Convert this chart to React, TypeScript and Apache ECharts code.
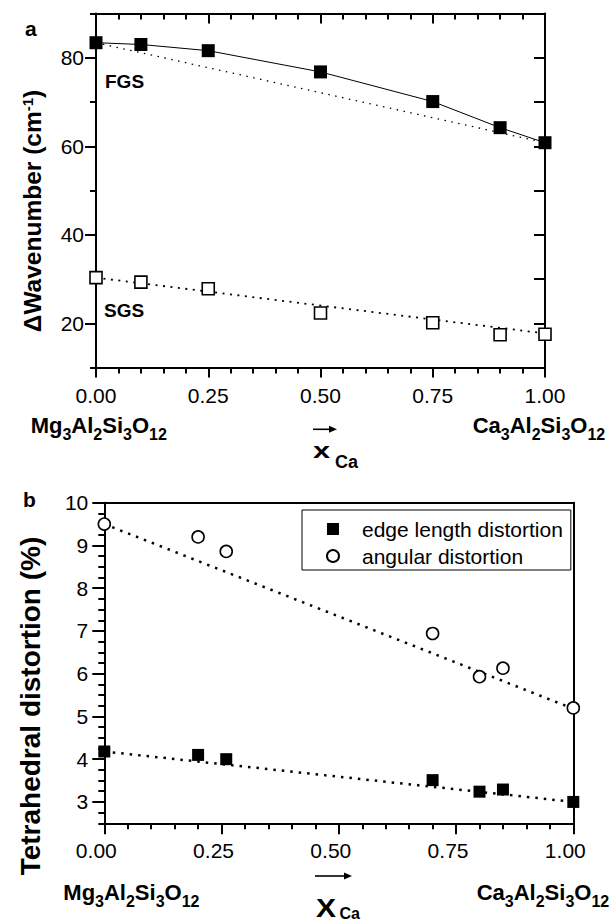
import React, { useEffect, useRef } from "react";
import * as echarts from "echarts";

// ---------- Panel a data ----------
const xA = [0, 0.1, 0.25, 0.5, 0.75, 0.9, 1.0];
const fgs = [83.4, 83.0, 81.6, 76.8, 70.1, 64.2, 60.8];
const sgs = [30.3, 29.3, 27.8, 22.3, 20.1, 17.4, 17.5];
const fitXA = [0, 1];
const fgsFit = [83.4, 60.8];
const sgsFit = [30.3, 17.7];
const yTicksA = [20, 40, 60, 80];

// ---------- Panel b data ----------
const xB = [0, 0.2, 0.26, 0.7, 0.8, 0.85, 1.0];
const edge = [4.18, 4.1, 4.0, 3.51, 3.24, 3.29, 3.0];
const angular = [9.5, 9.2, 8.86, 6.94, 5.93, 6.13, 5.2];
const fitXB = [0, 1];
const edgeFit = [4.18, 3.0];
const angularFit = [9.5, 5.18];
const yTicksB = [3, 4, 5, 6, 7, 8, 9, 10];
const legendNames = ["edge length distortion", "angular distortion"];

// end-member formulas: [text, isSubscript]
const mgFormula: [string, boolean][] = [["Mg", false], ["3", true], ["Al", false], ["2", true], ["Si", false], ["3", true], ["O", false], ["12", true]];
const caFormula: [string, boolean][] = [["Ca", false], ["3", true], ["Al", false], ["2", true], ["Si", false], ["3", true], ["O", false], ["12", true]];

const FONT = '"Liberation Sans", Arial, Helvetica, sans-serif';
const BLACK = "#000";

const pairs = (xs: number[], ys: number[]) => xs.map((x, i) => [x, ys[i]]);

const axisLine = { show: true, onZero: false, lineStyle: { color: BLACK, width: 2 } };

let measureCtx: CanvasRenderingContext2D | null = null;
function textWidth(text: string, size: number, bold = true) {
  if (!measureCtx) measureCtx = document.createElement("canvas").getContext("2d");
  if (!measureCtx) return text.length * size * 0.6;
  measureCtx.font = `${bold ? "bold " : ""}${size}px ${FONT}`;
  return measureCtx.measureText(text).width;
}

function textEl(text: string, x: number, y: number, fontSize: number, bold = true, extra: any = {}) {
  return {
    type: "text",
    x,
    y,
    ...extra,
    style: {
      text,
      fontSize,
      fontWeight: bold ? "bold" : "normal",
      fontFamily: FONT,
      fill: BLACK,
      align: "left",
      verticalAlign: "middle",
    },
  };
}

// lay out a chemical formula with subscripts, starting at x with main baseline yb
function formulaEls(parts: [string, boolean][], x: number, yb: number) {
  const MAIN = 22;
  const SUB = 16;
  const els: any[] = [];
  let cx = x;
  for (const [t, sub] of parts) {
    const size = sub ? SUB : MAIN;
    const base = sub ? yb + 7.3 : yb;
    els.push(textEl(t, cx, base - 0.3465 * size, size));
    cx += textWidth(t, size);
  }
  return els;
}

function arrow(x1: number, x2: number, y: number) {
  return [
    { type: "line", shape: { x1, y1: y, x2: x2 - 6, y2: y }, style: { stroke: BLACK, lineWidth: 1.6 } },
    { type: "polygon", shape: { points: [[x2, y], [x2 - 8, y - 3.5], [x2 - 8, y + 3.5]] }, style: { fill: BLACK } },
  ];
}

export default function App() {
  const ref = useRef<HTMLDivElement>(null);

  useEffect(() => {
    if (!ref.current) return;
    const chart = echarts.init(ref.current, null, { renderer: "svg" });

    const labelStyle = { color: BLACK, fontSize: 21, fontFamily: FONT };

    const option: any = {
      animation: false,
      backgroundColor: "#fff",
      textStyle: { fontFamily: FONT },
      grid: [
        { left: 96, top: 13.5, width: 449, height: 354 },
        { left: 104.3, top: 502.7, width: 469, height: 320.6 },
      ],
      xAxis: [
        {
          gridIndex: 0, type: "value", position: "bottom", min: 0, max: 1, interval: 0.25,
          axisLine,
          axisTick: { show: true, length: 10, lineStyle: { color: BLACK, width: 2 } },
          minorTick: { show: true, splitNumber: 5, length: 6, lineStyle: { color: BLACK, width: 2 } },
          axisLabel: { ...labelStyle, margin: 17, formatter: (v: number) => v.toFixed(2) },
          splitLine: { show: false },
        },
        {
          gridIndex: 0, type: "value", position: "top", min: 0, max: 1, interval: 0.25,
          axisLine,
          axisTick: { show: true, inside: true, length: 10, lineStyle: { color: BLACK, width: 2 } },
          minorTick: { show: true, splitNumber: 5, length: 6, lineStyle: { color: BLACK, width: 2 } },
          axisLabel: { show: false },
          splitLine: { show: false },
        },
        {
          gridIndex: 1, type: "value", position: "bottom", min: 0, max: 1, interval: 0.25,
          axisLine,
          axisTick: { show: true, length: 11, lineStyle: { color: BLACK, width: 2 } },
          minorTick: { show: true, splitNumber: 5, length: 6, lineStyle: { color: BLACK, width: 2 } },
          axisLabel: { ...labelStyle, margin: 17, padding: [0, 16, 0, 0], formatter: (v: number) => v.toFixed(2) },
          splitLine: { show: false },
        },
        {
          gridIndex: 1, type: "value", position: "top", min: 0, max: 1,
          axisLine,
          axisTick: { show: false },
          axisLabel: { show: false },
          splitLine: { show: false },
        },
      ],
      yAxis: [
        {
          gridIndex: 0, type: "value", position: "left", min: 10, max: 90, interval: 10,
          axisLine,
          axisTick: { show: true, length: 6, lineStyle: { color: BLACK, width: 2 } },
          axisLabel: {
            ...labelStyle, margin: 12,
            formatter: (v: number) => (yTicksA.indexOf(v) >= 0 ? String(v) : ""),
          },
          splitLine: { show: false },
        },
        {
          gridIndex: 0, type: "value", position: "left", min: 10, max: 90, interval: 10,
          axisLine: { show: false },
          axisTick: { show: true, length: 11, customValues: yTicksA, lineStyle: { color: BLACK, width: 2 } },
          axisLabel: { show: false },
          splitLine: { show: false },
        },
        {
          gridIndex: 0, type: "value", position: "right", min: 10, max: 90, interval: 10,
          axisLine,
          axisTick: { show: true, inside: true, length: 11, lineStyle: { color: BLACK, width: 2 } },
          axisLabel: { show: false },
          splitLine: { show: false },
        },
        {
          gridIndex: 1, type: "value", position: "left", min: 2.5, max: 10, interval: 0.25,
          axisLine,
          axisTick: { show: true, length: 6, lineStyle: { color: BLACK, width: 2 } },
          axisLabel: {
            ...labelStyle, margin: 16,
            formatter: (v: number) => (yTicksB.indexOf(v) >= 0 ? String(v) : ""),
          },
          splitLine: { show: false },
        },
        {
          gridIndex: 1, type: "value", position: "left", min: 2.5, max: 10, interval: 0.25,
          axisLine: { show: false },
          axisTick: { show: true, length: 12, customValues: yTicksB, lineStyle: { color: BLACK, width: 2 } },
          axisLabel: { show: false },
          splitLine: { show: false },
        },
        {
          gridIndex: 1, type: "value", position: "right", min: 2.5, max: 10,
          axisLine,
          axisTick: { show: false },
          axisLabel: { show: false },
          splitLine: { show: false },
        },
      ],
      legend: {
        orient: "vertical",
        left: 302,
        top: 510,
        data: [
          { name: legendNames[0], icon: "rect" },
          { name: legendNames[1], icon: "circle" },
        ],
        itemWidth: 12,
        itemHeight: 12,
        itemGap: 5,
        padding: [8, 8, 3, 24],
        borderColor: BLACK,
        borderWidth: 1,
        borderRadius: 0,
        backgroundColor: "#fff",
        selectedMode: false,
        textStyle: { fontSize: 21, color: BLACK, fontFamily: FONT, lineHeight: 22, padding: [0, 0, 0, 18] },
      },
      series: [
        // Panel a
        {
          name: "FGS fit", type: "line", xAxisIndex: 0, yAxisIndex: 0, z: 1, silent: true,
          data: pairs(fitXA, fgsFit), showSymbol: false, symbol: "none",
          lineStyle: { color: BLACK, width: 1.3, type: [1.5, 5.5] },
        },
        {
          name: "SGS fit", type: "line", xAxisIndex: 0, yAxisIndex: 0, z: 1, silent: true,
          data: pairs(fitXA, sgsFit), showSymbol: false, symbol: "none",
          lineStyle: { color: BLACK, width: 1.8, type: [2, 5.5] },
        },
        {
          name: "FGS", type: "line", xAxisIndex: 0, yAxisIndex: 0, z: 3, clip: false,
          data: pairs(xA, fgs), symbol: "rect", symbolSize: 13, showSymbol: true,
          itemStyle: { color: BLACK, opacity: 1 }, lineStyle: { color: BLACK, width: 1 },
        },
        {
          name: "SGS", type: "scatter", xAxisIndex: 0, yAxisIndex: 0, z: 3, clip: false,
          data: pairs(xA, sgs), symbol: "rect", symbolSize: 12,
          itemStyle: { color: "#fff", borderColor: BLACK, borderWidth: 1.6, opacity: 1 },
        },
        // Panel b
        {
          name: "edge fit", type: "line", xAxisIndex: 2, yAxisIndex: 3, z: 1, silent: true,
          data: pairs(fitXB, edgeFit), showSymbol: false, symbol: "none",
          lineStyle: { color: BLACK, width: 2.5, type: [2.5, 6] },
        },
        {
          name: "angular fit", type: "line", xAxisIndex: 2, yAxisIndex: 3, z: 1, silent: true,
          data: pairs(fitXB, angularFit), showSymbol: false, symbol: "none",
          lineStyle: { color: BLACK, width: 2.5, type: [2.5, 6] },
        },
        {
          name: legendNames[0], type: "scatter", xAxisIndex: 2, yAxisIndex: 3, z: 3, clip: false,
          data: pairs(xB, edge), symbol: "rect", symbolSize: 12,
          itemStyle: { color: BLACK, opacity: 1 },
        },
        {
          name: legendNames[1], type: "scatter", xAxisIndex: 2, yAxisIndex: 3, z: 3, clip: false,
          data: pairs(xB, angular), symbol: "circle", symbolSize: 12,
          itemStyle: { color: "#fff", borderColor: BLACK, borderWidth: 1.6, opacity: 1 },
        },
      ],
      graphic: [
        textEl("a", 25, 28, 21),
        textEl("b", 23, 499.5, 21),
        textEl("FGS", 105, 81, 19),
        textEl("SGS", 104, 310, 19),
        // y-axis titles
        {
          type: "text", x: 32, y: 211, rotation: Math.PI / 2,
          style: {
            text: "{t|\u0394Wavenumber (cm}{p|-1}{t|)}",
            align: "center", verticalAlign: "middle",
            rich: {
              t: { fontSize: 24.5, fontWeight: "bold", fontFamily: FONT, color: BLACK, lineHeight: 25, verticalAlign: "bottom" },
              p: { fontSize: 15, fontWeight: "bold", fontFamily: FONT, color: BLACK, lineHeight: 15, padding: [0, 0, 10, 0], verticalAlign: "top" },
            },
          },
        },
        {
          type: "text", x: 30, y: 706, rotation: Math.PI / 2,
          style: {
            text: "Tetrahedral distortion (%)",
            align: "center", verticalAlign: "middle",
            fontSize: 28, fontWeight: "bold", fontFamily: FONT, fill: BLACK,
          },
        },
        // formulas
        ...formulaEls(mgFormula, 30.7, 432.7),
        ...formulaEls(caFormula, 472.7, 432.7),
        ...formulaEls(mgFormula, 63.3, 900),
        ...formulaEls(caFormula, 476.7, 900),
        // arrows
        ...arrow(313, 337, 429.3),
        ...arrow(315, 352, 876),
        // x_Ca labels
        textEl("x", 313, 450.7, 22, true, { scaleX: 1.4 }),
        textEl("Ca", 335, 462, 18),
        textEl("X", 316, 908.5, 25, true, { scaleX: 1.2 }),
        textEl("Ca", 339.5, 913.5, 16),
      ],
    };

    chart.setOption(option);
    return () => chart.dispose();
  }, []);

  return (
    <div
      ref={ref}
      style={{ position: "absolute", left: 0, top: 0, width: 613, height: 923, background: "#fff" }}
    />
  );
}
